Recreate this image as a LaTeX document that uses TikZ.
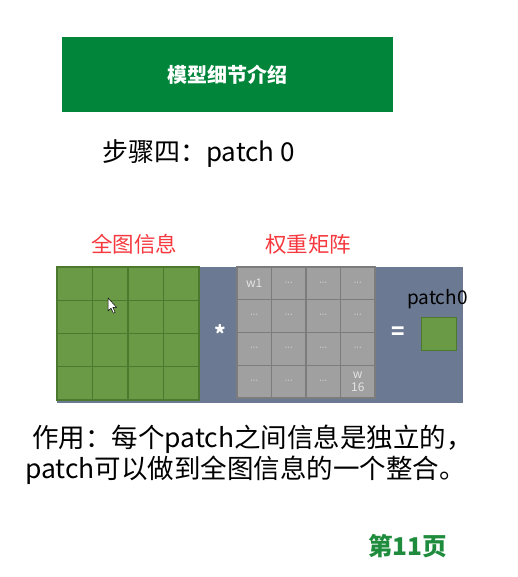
\documentclass[tikz,border=0pt]{standalone}
\usepackage{fontspec}
\setmainfont{Noto Sans CJK SC}
\newfontfamily\dotfont{DejaVu Sans}
\definecolor{titlegreen}{HTML}{00853A}
\definecolor{labelred}{HTML}{F5393F}
\definecolor{panelblue}{HTML}{6B7A92}
\definecolor{cellgreen}{HTML}{6A9A46}
\definecolor{linegreen}{HTML}{4B7A2E}
\definecolor{cellgray}{HTML}{A0A0A0}
\definecolor{linegray}{HTML}{7C7C7C}
\definecolor{weighttext}{HTML}{E4E4E4}
\definecolor{pagegreen}{HTML}{1E8C3C}
\tikzset{
  fs/.style={font=\fontsize{#1}{#1}\selectfont},
  fsb/.style={font=\fontsize{#1}{#1}\selectfont\bfseries},
  txt/.style={inner sep=0pt, anchor=west},
  gcell/.style={draw=linegreen, line width=1.3pt, fill=cellgreen, minimum width=35.5pt, minimum height=33.25pt, inner sep=0pt},
  wcell/.style={draw=linegray, line width=1.3pt, fill=cellgray, minimum width=34.5pt, minimum height=32.75pt, inner sep=0pt, text=weighttext, font=\fontsize{12}{13.5}\selectfont, align=center},
}
\begin{document}
\begin{tikzpicture}[x=1pt,y=-1pt]
\useasboundingbox (0,0) rectangle (518,577);
\fill[white] (0,0) rectangle (518,577);

% header bar
\node[fill=titlegreen, minimum width=331pt, minimum height=75pt, inner sep=0pt, text=white, fsb=20] (title) at (227.5,74.5) {模型细节介绍};

% step heading
\node[txt, fs=26] (step) at (102,154) {步骤四：patch 0};

% matrix captions
\node[txt, fs=21.5, text=labelred] (lblfull) at (91,244) {全图信息};
\node[txt, fs=21.5, text=labelred] (lblw) at (265,244) {权重矩阵};

% background panel
\fill[panelblue] (57,267) rectangle (463,403);

% 4x4 input grid
\foreach \i in {0,...,3}
  \foreach \j in {0,...,3}
    \node[gcell] (g-\i-\j) at ({57+17.75+35.5*\j},{267+16.6+33.25*\i}) {};

% mouse pointer
\filldraw[fill=white, draw=black, line width=0.5pt, line join=round]
  (108,298) -- (108,311) -- (111,308.2) -- (113.4,313.2) -- (115.2,312.4) -- (112.8,307.4) -- (116.6,307.4) -- cycle;

% multiplication sign
\node[text=white, fsb=22] (mul) at (220,334) {*};

% 4x4 weight grid: first and last entries named, the rest elided
\foreach \i in {0,...,3}
  \foreach \j in {0,...,3} {
    \def\wlab{{\dotfont\fontsize{8}{9}\selectfont ···}}
    \ifnum\i=0 \ifnum\j=0 \def\wlab{w1}\fi\fi
    \ifnum\i=3 \ifnum\j=3 \def\wlab{w\\16}\fi\fi
    \node[wcell] (w-\i-\j) at ({237+17.25+34.5*\j},{267+16.4+32.75*\i}) {\wlab};
  }

% equals sign and result
\node[text=white, fsb=22] (eq) at (398,333) {=};
\node[txt, fs=19] (plabel) at (407,299) {patch0};
\node[draw=linegreen, line width=1pt, fill=cellgreen, minimum width=35pt, minimum height=33pt, inner sep=0pt] (p0) at (439,333.5) {};

% explanation
\node[txt, fs=26.5] (note1) at (32,439) {作用：每个patch之间信息是独立的，};
\node[txt, fs=26.5] (note2) at (25,470) {patch可以做到全图信息的一个整合。};

% page number
\node[txt, fsb=24.5, text=pagegreen] (page) at (368,546) {第11页};
\end{tikzpicture}
\end{document}
